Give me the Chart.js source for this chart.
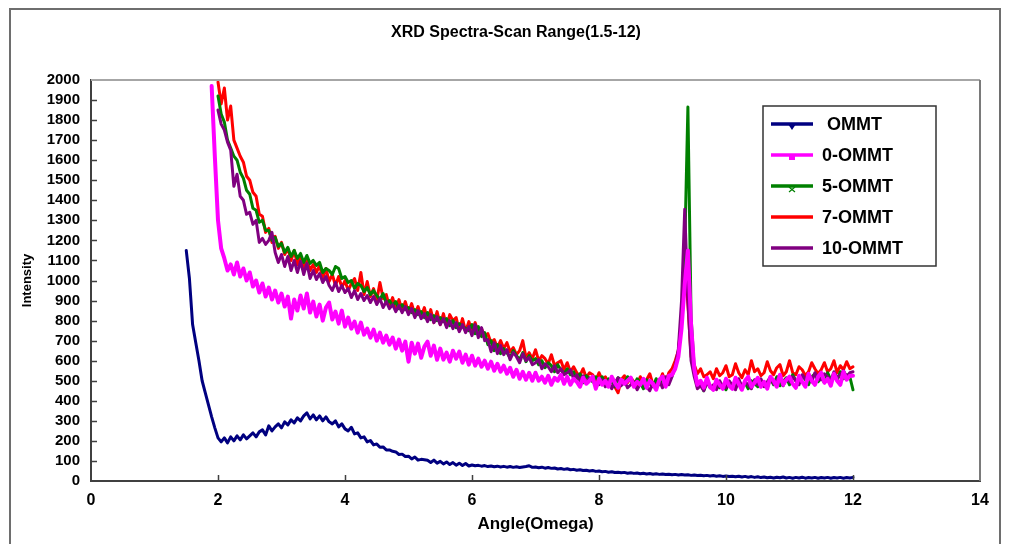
<!DOCTYPE html>
<html>
<head>
<meta charset="utf-8">
<title>XRD Spectra</title>
<script src="https://cdn.jsdelivr.net/npm/chart.js@4.4.1/dist/chart.umd.min.js"></script>
<style>
  html, body { margin: 0; padding: 0; background: #fff; }
  #wrap { width: 1009px; height: 544px; }
</style>
</head>
<body>
<div id="wrap"><canvas id="xrd" width="1009" height="544"></canvas></div>
<script>
// scan runs from 1.5 to 12 degrees in 0.05 steps (211 readings)
var startAngle = 1.5;
var stepAngle = 0.05;
var angles = [];
for (var i = 0; i < 211; i++) {
  angles.push(+(startAngle + i * stepAngle).toFixed(2));
}

// one row = 0.5 degree (10 readings), first row starts at 1.50
var ommt = [
  1150, 1010, 780, 690, 600, 500, 440, 380, 320, 265,
  215, 195, 215, 190, 220, 200, 225, 205, 230, 210,
  225, 240, 220, 245, 255, 230, 275, 250, 270, 285,
  265, 295, 280, 305, 290, 315, 300, 325, 340, 310,
  330, 305, 325, 300, 320, 295, 285, 300, 270, 285,
  260, 250, 268, 235, 240, 215, 220, 195, 202, 180,
  185, 168, 170, 155, 155, 148, 145, 132, 134, 122,
  124, 110, 120, 104, 108, 106, 103, 92, 104, 89,
  98, 85, 95, 82, 92, 79, 89, 77, 87, 75,
  80, 76, 78, 74, 77, 72, 75, 71, 74, 70,
  73, 69, 72, 68, 71, 67, 70, 72, 76, 68,
  70, 66, 69, 64, 67, 63, 65, 60, 62, 58,
  61, 56, 58, 54, 56, 52, 54, 50, 52, 48,
  50, 46, 48, 44, 46, 42, 44, 41, 43, 39,
  41, 38, 40, 36, 39, 35, 37, 34, 36, 33,
  35, 32, 34, 31, 33, 30, 32, 30, 31, 28,
  30, 27, 29, 26, 28, 25, 27, 24, 26, 23,
  25, 22, 24, 21, 24, 20, 23, 19, 22, 18,
  21, 17, 20, 16, 19, 15, 19, 16, 20, 15,
  18, 14, 18, 15, 19, 14, 17, 15, 18, 14,
  17, 15, 18, 14, 17, 15, 18, 14, 17, 15,
  18
];

var ommt0 = [
  null, null, null, null, null, null, null, null, 1970, 1620,
  1300, 1160, 1110, 1050, 1080, 1030, 1090, 1020, 1060, 1000,
  1040, 970, 1000, 940, 985, 920, 965, 905, 950, 890,
  935, 870, 920, 810, 905, 850, 925, 860, 935, 840,
  895, 820, 880, 800, 865, 890, 805, 845, 785, 850,
  770, 815, 760, 795, 740, 790, 730, 760, 715, 755,
  700, 740, 690, 725, 680, 715, 660, 705, 650, 695,
  595, 690, 635, 685, 615, 670, 695, 625, 675, 605,
  660, 605, 640, 595, 650, 610, 645, 590, 630, 580,
  625, 575, 610, 570, 600, 560, 595, 550, 585, 545,
  575, 535, 565, 520, 555, 510, 545, 505, 540, 500,
  540, 500, 520, 490, 525, 480, 515, 500, 530, 485,
  520, 480, 510, 495, 470, 515, 485, 500, 520, 460,
  510, 480, 500, 470, 520, 490, 465, 505, 485, 500,
  515, 470, 495, 480, 510, 465, 500, 485, 455, 505,
  520, 470, 525, 530, 560, 620, 760, 980, 1150, 780,
  560, 480, 500, 465, 515, 470, 455, 505, 480, 460,
  510, 475, 460, 515, 485, 455, 500, 520, 470, 490,
  515, 470, 495, 460, 520, 500, 470, 530, 480, 505,
  520, 485, 465, 525, 495, 470, 535, 500, 480, 520,
  540, 490, 510, 475, 535, 500, 480, 545, 505, 525,
  525
];

var ommt5 = [
  null, null, null, null, null, null, null, null, null, null,
  1920, 1830, 1790, 1700, 1660, 1620, 1600, 1540, 1510, 1450,
  1430, 1360, 1350, 1290, 1300, 1250, 1250, 1200, 1215, 1170,
  1185, 1140, 1165, 1120, 1150, 1110, 1135, 1090, 1125, 1085,
  1100, 1075, 1090, 1040, 1060, 1050, 1030, 1070, 1060, 1010,
  1020, 990, 1000, 960, 985, 975, 945, 965, 930, 950,
  925, 905, 935, 885, 900, 875, 895, 860, 880, 855,
  865, 840, 855, 830, 845, 815, 840, 805, 825, 800,
  815, 795, 810, 775, 800, 765, 785, 770, 760, 750,
  780, 735, 770, 720, 740, 680, 700, 650, 680, 635,
  660, 640, 615, 650, 625, 605, 640, 595, 625, 600,
  610, 580, 600, 565, 590, 575, 545, 580, 555, 535,
  560, 530, 545, 505, 535, 490, 525, 510, 495, 520,
  500, 520, 480, 510, 495, 470, 515, 505, 485, 520,
  500, 475, 510, 490, 460, 505, 485, 470, 510, 480,
  510, 480, 520, 530, 560, 640, 780, 1150, 1865, 820,
  560, 470, 485, 450, 490, 470, 455, 500, 465, 475,
  455, 495, 480, 460, 505, 470, 490, 460, 500, 485,
  470, 500, 490, 465, 510, 480, 520, 475, 495, 515,
  480, 530, 500, 490, 525, 505, 480, 520, 535, 495,
  515, 490, 540, 505, 525, 500, 545, 510, 530, 520,
  455
];

var ommt7 = [
  null, null, null, null, null, null, null, null, null, null,
  1990, 1880, 1960, 1800, 1870, 1700, 1660, 1620, 1590, 1520,
  1500, 1440, 1420, 1330, 1320, 1240, 1260, 1190, 1220, 1160,
  1190, 1130, 1160, 1100, 1150, 1080, 1120, 1060, 1110, 1050,
  1080, 1040, 1075, 1010, 1060, 995, 1030, 975, 1020, 965,
  1000, 950, 985, 1010, 950, 1040, 930, 995, 920, 960,
  900, 990, 910, 930, 870, 915, 860, 905, 850, 895,
  840, 885, 830, 870, 820, 865, 800, 855, 790, 845,
  780, 835, 770, 830, 800, 815, 750, 810, 745, 795,
  750, 790, 740, 760, 720, 735, 690, 705, 665, 700,
  660, 690, 645, 665, 630, 650, 700, 615, 640, 610,
  655, 600, 625, 610, 585, 630, 575, 590, 600, 555,
  590, 545, 570, 540, 525, 560, 515, 540, 530, 500,
  540, 505, 520, 485, 500, 470, 440, 505, 525, 490,
  515, 495, 480, 520, 490, 505, 535, 480, 500, 490,
  535, 490, 540, 560, 600, 650, 800, 1100, 880, 620,
  580, 535, 560, 520, 530, 545, 510, 560, 525, 540,
  575, 520, 530, 585, 540, 515, 555, 530, 600, 545,
  560, 525, 540, 595, 550, 530, 565, 580, 525, 545,
  600, 540, 530, 570, 555, 525, 545, 590, 560, 535,
  555, 590, 545, 560, 600, 540, 575, 555, 595, 560,
  570
];

var ommt10 = [
  null, null, null, null, null, null, null, null, null, null,
  1850, 1780, 1750, 1690, 1650, 1470, 1530, 1420, 1400, 1330,
  1340, 1280, 1300, 1190, 1210, 1180, 1200, 1240, 1140, 1090,
  1130, 1070, 1120, 1050, 1100, 1040, 1095, 1030, 1085, 1010,
  1050, 1005, 1035, 990, 1020, 975, 950, 990, 945, 975,
  940, 960, 915, 950, 905, 935, 900, 925, 890, 920,
  880, 910, 865, 895, 860, 880, 845, 875, 840, 870,
  830, 860, 815, 850, 810, 835, 795, 830, 790, 820,
  780, 810, 765, 800, 760, 790, 745, 780, 740, 770,
  725, 780, 715, 765, 700, 705, 645, 690, 635, 675,
  630, 655, 605, 640, 620, 590, 635, 600, 615, 580,
  590, 605, 560, 585, 570, 545, 575, 540, 560, 530,
  540, 555, 510, 530, 500, 525, 490, 515, 500, 480,
  480, 505, 470, 500, 460, 490, 515, 475, 500, 465,
  480, 495, 455, 485, 500, 470, 450, 490, 475, 500,
  465, 520, 480, 520, 570, 660, 900, 1355, 900, 600,
  520, 460, 475, 450, 495, 465, 480, 455, 500, 470,
  465, 500, 475, 455, 510, 470, 495, 480, 460, 505,
  480, 510, 470, 495, 520, 485, 500, 530, 475, 510,
  495, 520, 500, 480, 530, 510, 525, 495, 540, 510,
  505, 535, 520, 500, 545, 515, 530, 550, 520, 540,
  545
];

var seriesNames = ['OMMT', '0-OMMT', '5-OMMT', '7-OMMT', '10-OMMT'];
var seriesColors = ['#000080', '#ff00ff', '#008000', '#ff0000', '#800080'];
var seriesValues = [ommt, ommt0, ommt5, ommt7, ommt10];
// higher number is painted first (further back)
var seriesOrder = [5, 0, 2, 3, 1];
var seriesWidth = [3, 4, 3, 3, 3];

var chartTitle = 'XRD Spectra-Scan Range(1.5-12)';
var xTitle = 'Angle(Omega)';
var yTitle = 'Intensity';

function toPoints(values) {
  return angles.map(function (a, i) { return { x: a, y: values[i] }; });
}

var datasets = seriesNames.map(function (name, k) {
  return {
    label: name,
    data: toPoints(seriesValues[k]),
    borderColor: seriesColors[k],
    backgroundColor: seriesColors[k],
    borderWidth: seriesWidth[k],
    pointRadius: 0,
    tension: 0,
    fill: false,
    order: seriesOrder[k]
  };
});

var boldFont = "'Liberation Sans', Arial, sans-serif";

// frame, inward ticks, title and the legend box
var decor = {
  id: 'decor',
  afterDraw: function (chart) {
    var ctx = chart.ctx;
    var a = chart.chartArea;
    var xs = chart.scales.x, ys = chart.scales.y;
    ctx.save();

    // outer border of the whole figure
    ctx.strokeStyle = '#6e6e6e';
    ctx.lineWidth = 2;
    ctx.beginPath();
    ctx.moveTo(10, chart.height + 2);
    ctx.lineTo(10, 9);
    ctx.lineTo(1000, 9);
    ctx.lineTo(1000, chart.height + 2);
    ctx.stroke();

    // top and right edges of the plot box
    ctx.strokeStyle = '#a6a6a6';
    ctx.lineWidth = 2;
    ctx.beginPath();
    ctx.moveTo(a.left, a.top);
    ctx.lineTo(a.right, a.top);
    ctx.stroke();
    ctx.strokeStyle = '#7a7a7a';
    ctx.beginPath();
    ctx.moveTo(a.right, a.top);
    ctx.lineTo(a.right, a.bottom);
    ctx.stroke();

    // inward tick marks
    ctx.strokeStyle = '#404040';
    ctx.lineWidth = 1.5;
    ctx.beginPath();
    ys.ticks.forEach(function (t) {
      if (t.value <= 0 || t.value >= 2000) return;
      var y = Math.round(ys.getPixelForValue(t.value)) + 0.5;
      ctx.moveTo(a.left, y);
      ctx.lineTo(a.left + 6, y);
    });
    xs.ticks.forEach(function (t) {
      if (t.value <= 0 || t.value >= 14) return;
      var x = Math.round(xs.getPixelForValue(t.value)) + 0.5;
      ctx.moveTo(x, a.bottom);
      ctx.lineTo(x, a.bottom - 6);
    });
    ctx.stroke();

    // title
    ctx.fillStyle = '#000';
    ctx.font = 'bold 16px ' + boldFont;
    ctx.textAlign = 'center';
    ctx.textBaseline = 'middle';
    ctx.fillText(chartTitle, 516, 33);

    // legend
    var lx = 763, ly = 106, lw = 173, lh = 160;
    ctx.fillStyle = '#fff';
    ctx.fillRect(lx, ly, lw, lh);
    ctx.strokeStyle = '#333';
    ctx.lineWidth = 1.5;
    ctx.strokeRect(lx, ly, lw, lh);
    var rows = [124, 155, 186, 217, 248];
    ctx.textAlign = 'left';
    ctx.font = 'bold 18px ' + boldFont;
    seriesNames.forEach(function (name, k) {
      var y = rows[k];
      ctx.strokeStyle = seriesColors[k];
      ctx.lineWidth = 3.5;
      ctx.beginPath();
      ctx.moveTo(771, y);
      ctx.lineTo(813, y);
      ctx.stroke();
      ctx.fillStyle = seriesColors[k];
      if (k === 0) {
        ctx.beginPath();
        ctx.moveTo(788, y);
        ctx.lineTo(796, y);
        ctx.lineTo(792, y + 6);
        ctx.closePath();
        ctx.fill();
      } else if (k === 1) {
        ctx.fillRect(789, y, 6, 5);
      } else if (k === 2) {
        ctx.lineWidth = 1.2;
        ctx.beginPath();
        ctx.moveTo(789, y + 1); ctx.lineTo(795, y + 6);
        ctx.moveTo(795, y + 1); ctx.lineTo(789, y + 6);
        ctx.stroke();
      }
      ctx.fillStyle = '#000';
      ctx.fillText(name, k === 0 ? 827 : 822, y + 1);
    });

    ctx.restore();
  }
};

new Chart(document.getElementById('xrd').getContext('2d'), {
  type: 'line',
  data: { datasets: datasets },
  options: {
    responsive: false,
    animation: false,
    devicePixelRatio: 1,
    layout: { padding: { top: 80, right: 29, bottom: 0, left: 0 } },
    plugins: {
      legend: { display: false },
      tooltip: { enabled: false },
      title: { display: false }
    },
    elements: { line: { borderJoinStyle: 'round', borderCapStyle: 'round' } },
    scales: {
      x: {
        type: 'linear',
        min: 0,
        max: 14,
        afterFit: function (s) { s.height = 63; },
        grid: { display: false, drawTicks: false },
        border: { display: true, color: '#404040', width: 2 },
        ticks: {
          stepSize: 2,
          padding: 10,
          color: '#000',
          font: { family: boldFont, size: 16, weight: 'bold' },
          callback: function (v) { return String(v); }
        },
        title: {
          display: true,
          text: xTitle,
          color: '#000',
          padding: { top: 0, bottom: 9 },
          font: { family: boldFont, size: 17, weight: 'bold' }
        }
      },
      y: {
        min: 0,
        max: 2000,
        afterFit: function (s) { s.width = 91; },
        grid: { display: false, drawTicks: false },
        border: { display: true, color: '#404040', width: 2 },
        ticks: {
          stepSize: 100,
          autoSkip: false,
          padding: 11,
          color: '#000',
          font: { family: boldFont, size: 15, weight: 'bold' },
          callback: function (v) { return String(v); }
        },
        title: {
          display: true,
          text: yTitle,
          color: '#000',
          padding: { top: 20, bottom: 0 },
          font: { family: boldFont, size: 13, weight: 'bold' }
        }
      }
    }
  },
  plugins: [decor]
});
</script>
</body>
</html>
